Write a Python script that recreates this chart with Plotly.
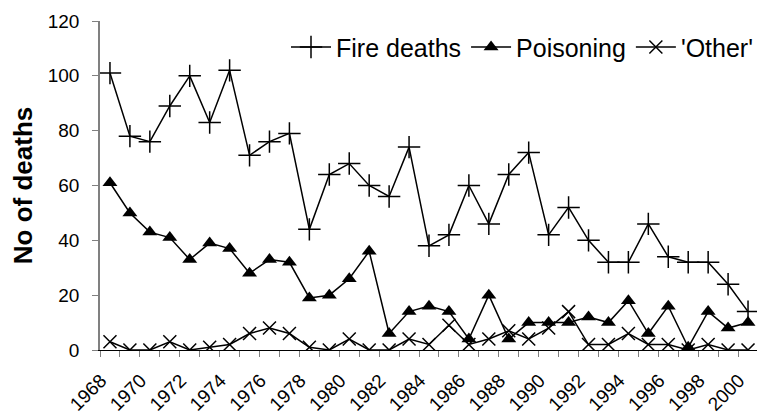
import plotly.graph_objects as go

years = list(range(1968, 2001))
fire_deaths = [101, 78, 76, 89, 100, 83, 102, 71, 76, 79, 44, 64, 68, 60, 56, 74, 38,
               42, 60, 46, 64, 72, 42, 52, 40, 32, 32, 46, 34, 32, 32, 24, 14]
poisoning = [61, 50, 43, 41, 33, 39, 37, 28, 33, 32, 19, 20, 26, 36, 6, 14, 16,
             14, 4, 20, 4, 10, 10, 10, 12, 10, 18, 6, 16, 1, 14, 8, 10]
other = [3, 0, 0, 3, 0, 1, 2, 6, 8, 6, 1, 0, 4, 0, 0, 4, 2,
         9, 2, 4, 7, 4, 8, 14, 2, 2, 6, 2, 2, 0, 2, 0, 0]
label_years = years[::2]

FONT = "Liberation Sans, Arial, sans-serif"

fig = go.Figure()
fig.add_trace(go.Scatter(
    x=years, y=fire_deaths, name="Fire deaths", mode="lines+markers",
    line=dict(color="black", width=1.5),
    marker=dict(symbol="cross-thin-open", size=16, color="black",
                line=dict(color="black", width=1.5))))
fig.add_trace(go.Scatter(
    x=years, y=poisoning, name="Poisoning", mode="lines+markers",
    line=dict(color="black", width=1.5),
    marker=dict(symbol="triangle-up", size=13, color="black",
                line=dict(color="black", width=0))))
fig.add_trace(go.Scatter(
    x=years, y=other, name="'Other'", mode="lines+markers",
    line=dict(color="black", width=1.5),
    marker=dict(symbol="x-thin-open", size=13, color="black",
                line=dict(color="black", width=1.5))))

boundaries = [y - 0.5 for y in years] + [years[-1] + 0.5]

# the page body adds an 8px offset, so the figure is sized to fit the window
fig.update_layout(
    width=757, height=406,
    margin=dict(l=92, r=7, t=13, b=64),
    paper_bgcolor="white", plot_bgcolor="white",
    font=dict(family=FONT, color="black"),
    showlegend=True,
    legend=dict(orientation="h", x=1.0, xanchor="right", y=0.92, yanchor="middle",
                font=dict(size=25, family=FONT, color="black"),
                bgcolor="rgba(0,0,0,0)", itemwidth=40, tracegroupgap=0),
    xaxis=dict(
        range=[years[0] - 0.5, years[-1] + 0.5],
        tickmode="array", tickvals=label_years, ticktext=[str(y) for y in label_years],
        tickangle=-45, tickfont=dict(size=19, family=FONT, color="black"),
        ticks="", showline=True, linecolor="black", linewidth=1,
        showgrid=False, zeroline=False, automargin=False,
        ticklabelstandoff=11, ticklabelshift=-9,
        minor=dict(tickmode="array", tickvals=boundaries, ticks="outside",
                   ticklen=6, tickcolor="#808080", tickwidth=1, showgrid=False),
    ),
    yaxis=dict(
        range=[0, 120], dtick=20, tick0=0,
        ticks="outside", ticklen=6, tickcolor="#808080", tickwidth=1,
        tickfont=dict(size=19, family=FONT, color="black"),
        showline=True, linecolor="#808080", linewidth=1.5,
        showgrid=False, zeroline=False, automargin=False,
        ticklabelstandoff=9,
        title=dict(text="<b>No of deaths</b>", font=dict(size=26, family=FONT, color="black"),
                   standoff=12),
    ),
)

fig.write_html("out.html")
